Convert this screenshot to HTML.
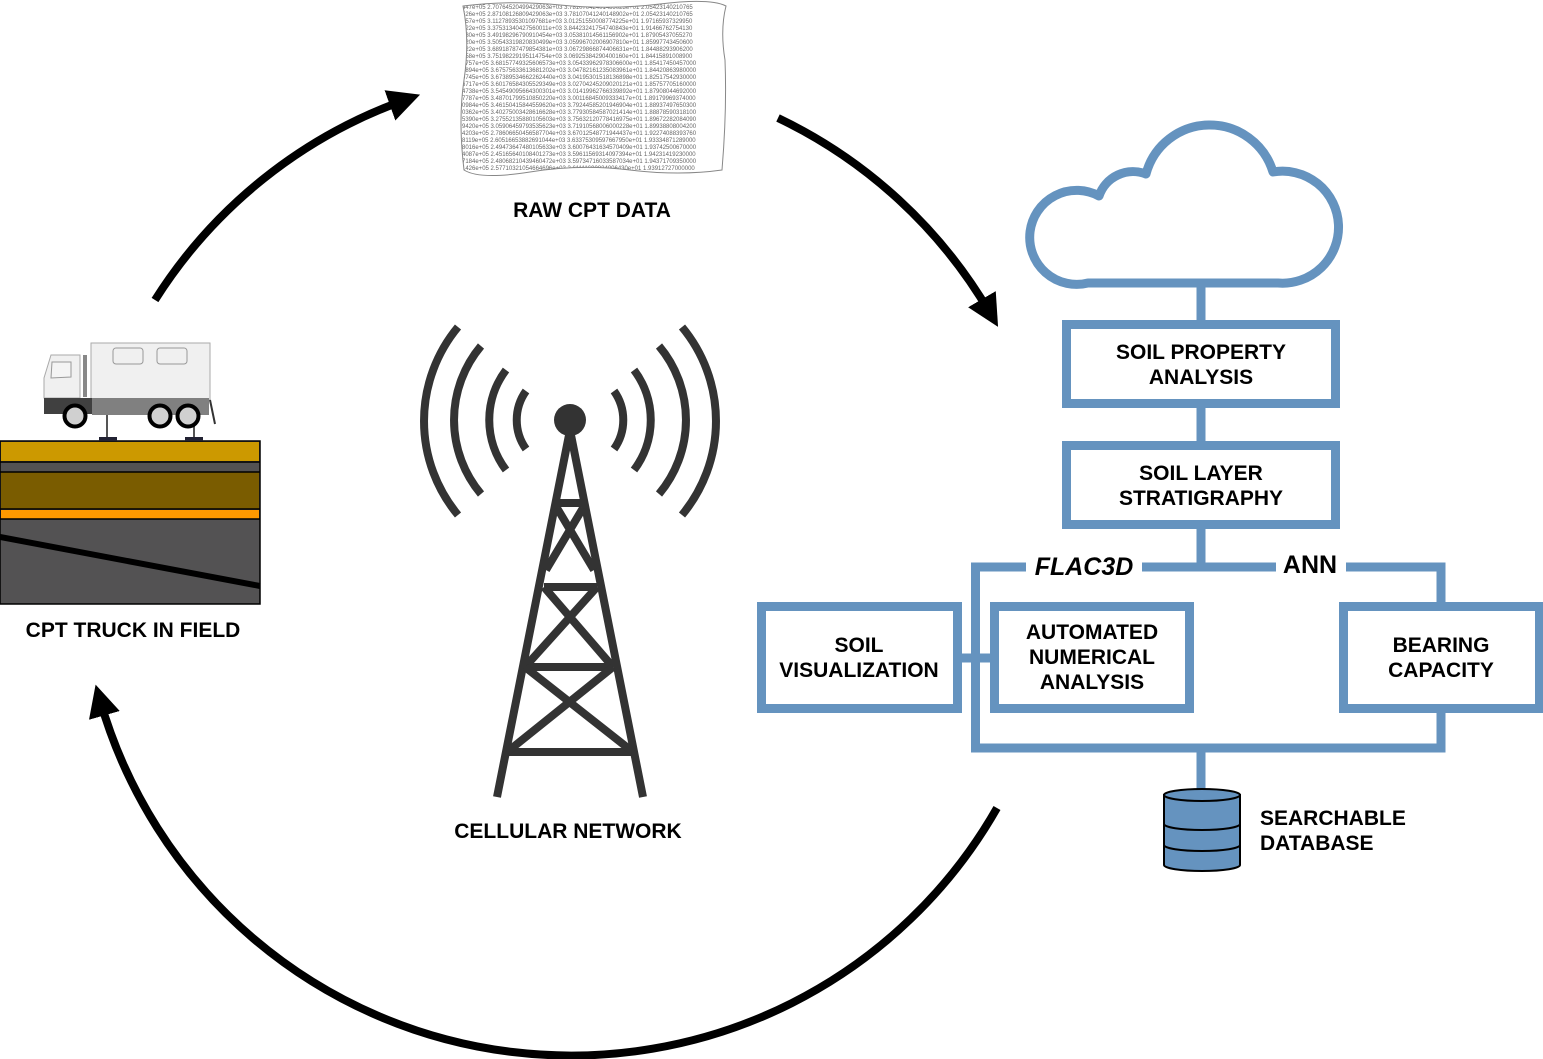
<!DOCTYPE html>
<html><head><meta charset="utf-8"><style>
html,body{margin:0;padding:0;background:#fff;}
svg{display:block;}
text{font-family:"Liberation Sans",Arial,sans-serif;font-weight:bold;}
</style></head><body>
<svg width="1543" height="1059" viewBox="0 0 1543 1059" xmlns="http://www.w3.org/2000/svg">
<defs>
<marker id="ah" markerWidth="4" markerHeight="4" refX="2" refY="2" orient="auto" markerUnits="strokeWidth">
<path d="M0,0 L4,2 L0,4 z" fill="#000"/>
</marker>
<clipPath id="sheet"><path d="M463,6 Q510,0 560,5 T660,4 T726,6 Q720,30 725,60 Q727,110 722,170 Q680,176 630,170 T530,172 T464,170 Q458,120 464,80 T463,6 z"/></clipPath>
</defs>

<path d="M155,300 A490,490 0 0 1 405,100" fill="none" stroke="#000" stroke-width="8" marker-end="url(#ah)"/>
<path d="M778,118 A490,490 0 0 1 990,313" fill="none" stroke="#000" stroke-width="8" marker-end="url(#ah)"/>
<path d="M997,808 A490,490 0 0 1 100,700" fill="none" stroke="#000" stroke-width="8" marker-end="url(#ah)"/>

<g clip-path="url(#sheet)">
<rect x="455" y="0" width="280" height="180" fill="#fff"/>
<g font-family="Liberation Mono,monospace" font-size="6" fill="#666">
<text x="462" y="9" style="font-weight:normal">447e+05 2.70764520499429063e+03 3.78107042401489023e+01 2.05423140210765</text>
<text x="462" y="16" style="font-weight:normal">526e+05 2.87108126809429063e+03 3.78107041240148902e+01 2.05423140210765</text>
<text x="462" y="23" style="font-weight:normal">157e+05 3.11278935301097681e+03 3.01251550008774225e+01 1.97165937329950</text>
<text x="462" y="30" style="font-weight:normal">522e+05 3.37531340427560011e+03 3.84423241754740843e+01 1.91466762754130</text>
<text x="462" y="37" style="font-weight:normal">880e+05 3.49198296790910454e+03 3.05381014561156902e+01 1.87905437055270</text>
<text x="462" y="44" style="font-weight:normal">720e+05 3.50543319820830499e+03 3.05996702006907810e+01 1.85997743450600</text>
<text x="462" y="51" style="font-weight:normal">022e+05 3.68918787479854381e+03 3.06729866874406631e+01 1.84488293906200</text>
<text x="462" y="58" style="font-weight:normal">058e+05 3.75198229195114754e+03 3.06925384290400160e+01 1.84415891008900</text>
<text x="462" y="65" style="font-weight:normal">8757e+05 3.68157749325606573e+03 3.05433962978306600e+01 1.85417450457000</text>
<text x="462" y="72" style="font-weight:normal">2894e+05 3.67575633613681202e+03 3.04782161235083961e+01 1.84420863980000</text>
<text x="462" y="79" style="font-weight:normal">9745e+05 3.67389534662262440e+03 3.04195301518136898e+01 1.82517542930000</text>
<text x="462" y="86" style="font-weight:normal">6717e+05 3.60176584305529349e+03 3.02704245209020121e+01 1.85757705160000</text>
<text x="462" y="93" style="font-weight:normal">4738e+05 3.54549095664300301e+03 3.01419962766339892e+01 1.87908044692000</text>
<text x="462" y="100" style="font-weight:normal">7787e+05 3.48701799510850220e+03 3.00116845009333417e+01 1.89179969374000</text>
<text x="462" y="107" style="font-weight:normal">0984e+05 3.46150415844559620e+03 3.79244585201946904e+01 1.88937497650300</text>
<text x="462" y="114" style="font-weight:normal">0362e+05 3.40275003428616628e+03 3.77930584587021414e+01 1.88878590318100</text>
<text x="462" y="121" style="font-weight:normal">5390e+05 3.27552135880105603e+03 3.75632120778416975e+01 1.89672282084090</text>
<text x="462" y="128" style="font-weight:normal">9420e+05 3.05906459793535623e+03 3.71910568006000228e+01 1.89938808004200</text>
<text x="462" y="135" style="font-weight:normal">4203e+05 2.78606650456587704e+03 3.67012548771944437e+01 1.92274088393760</text>
<text x="462" y="142" style="font-weight:normal">8119e+05 2.60516653882691044e+03 3.63375309597667950e+01 1.93334871289000</text>
<text x="462" y="149" style="font-weight:normal">8016e+05 2.49473647480105633e+03 3.60076431634570409e+01 1.93742500670000</text>
<text x="462" y="156" style="font-weight:normal">4087e+05 2.45165640108401273e+03 3.59611569314097394e+01 1.94231419230000</text>
<text x="462" y="163" style="font-weight:normal">7184e+05 2.48068210439460472e+03 3.59734716033587034e+01 1.94371709350000</text>
<text x="462" y="170" style="font-weight:normal">1426e+05 2.57710321054664696e+03 3.61111690824006430e+01 1.93912727000000</text>
</g>
</g>
<path d="M463,6 Q510,0 560,5 T660,4 T726,6 Q720,30 725,60 Q727,110 722,170 Q680,176 630,170 T530,172 T464,170 Q458,120 464,80 T463,6 z" fill="none" stroke="#888" stroke-width="1"/>
<text x="592" y="217" font-size="21" text-anchor="middle">RAW CPT DATA</text>

<rect x="0" y="441" width="260" height="163" fill="#535253" stroke="#000" stroke-width="1.5"/>
<rect x="1" y="442" width="258" height="19" fill="#cc9900"/>
<line x1="0" y1="462" x2="260" y2="462" stroke="#000" stroke-width="1.5"/>
<rect x="1" y="472" width="258" height="37" fill="#7a5c00"/>
<line x1="0" y1="472" x2="260" y2="472" stroke="#000" stroke-width="1.5"/>
<line x1="0" y1="509" x2="260" y2="509" stroke="#000" stroke-width="1.5"/>
<rect x="1" y="510" width="258" height="9" fill="#ff9900"/>
<line x1="0" y1="519" x2="260" y2="519" stroke="#000" stroke-width="1.5"/>
<line x1="0" y1="537" x2="260" y2="586" stroke="#000" stroke-width="6"/>
<line x1="107" y1="415" x2="107" y2="440" stroke="#555" stroke-width="2"/>
<rect x="99" y="437" width="18" height="4" fill="#223"/>
<line x1="194" y1="415" x2="194" y2="440" stroke="#555" stroke-width="2"/>
<rect x="185" y="437" width="18" height="4" fill="#223"/>
<rect x="91" y="343" width="119" height="57" fill="#f0f0f0" stroke="#aaa" stroke-width="1"/>
<rect x="92" y="398" width="117" height="17" fill="#808080"/>
<rect x="113" y="348" width="30" height="16" rx="3" fill="#f0f0f0" stroke="#999"/>
<rect x="157" y="348" width="30" height="16" rx="3" fill="#f0f0f0" stroke="#999"/>
<line x1="210" y1="400" x2="215" y2="424" stroke="#333" stroke-width="2"/>
<path d="M51,355 L80,355 L80,398 L44,398 L44,378 Z" fill="#f0f0f0" stroke="#aaa"/>
<rect x="83" y="355" width="4" height="42" fill="#888"/>
<path d="M52,362 L71,362 L71,377 L51,378 Z" fill="#f4f4f4" stroke="#999"/>
<rect x="44" y="398" width="48" height="16" fill="#404040"/>
<circle cx="75" cy="416" r="10.5" fill="#d0d0d0" stroke="#000" stroke-width="4"/>
<circle cx="160" cy="416" r="10.5" fill="#d0d0d0" stroke="#000" stroke-width="4"/>
<circle cx="188" cy="416" r="10.5" fill="#d0d0d0" stroke="#000" stroke-width="4"/>
<text x="133" y="637" font-size="21" text-anchor="middle">CPT TRUCK IN FIELD</text>

<g stroke="#333" stroke-width="8" fill="none">
<path d="M526,391 A50,50 0 0 0 526,449"/>
<path d="M614,391 A50,50 0 0 1 614,449"/>
<path d="M506,370 A83,83 0 0 0 506,470"/>
<path d="M634,370 A83,83 0 0 1 634,470"/>
<path d="M481,346 A115,115 0 0 0 481,494"/>
<path d="M659,346 A115,115 0 0 1 659,494"/>
<path d="M458,327 A147,147 0 0 0 458,515"/>
<path d="M682,327 A147,147 0 0 1 682,515"/>
<path d="M570,430 L497,797 M570,430 L643,797"/>
<path d="M557,503 L583,503 M544,587 L597,587 M525,667 L613,667 M507,752 L633,752"/>
<path d="M557,508 L594,570 M583,508 L546,570"/>
<path d="M544,587 L613,667 M597,587 L525,667"/>
<path d="M525,667 L633,752 M613,667 L507,752"/>
</g>
<circle cx="570" cy="420" r="16" fill="#333"/>
<text x="568" y="838" font-size="21" text-anchor="middle">CELLULAR NETWORK</text>

<path d="M1088,283 A47,47 0 1 1 1099,196 A36,36 0 0 1 1146,174 A66,66 0 0 1 1273,172 A56,56 0 1 1 1278,283 Z" fill="none" stroke="#6593bf" stroke-width="9" stroke-linejoin="round"/>

<g fill="none" stroke="#6593bf" stroke-width="9">
<line x1="1201" y1="283" x2="1201" y2="320"/>
<rect x="1066.5" y="324.5" width="269" height="79"/>
<line x1="1201" y1="408" x2="1201" y2="441"/>
<rect x="1066.5" y="445.5" width="269" height="79"/>
<line x1="1201" y1="529" x2="1201" y2="567"/>
<path d="M1026,567 L975.5,567 L975.5,748 L1441,748 L1441,712"/>
<path d="M1142,567 L1276,567"/>
<path d="M1346,567 L1441,567 L1441,603"/>
<rect x="761.5" y="606.5" width="196" height="102"/>
<rect x="994.5" y="606.5" width="195" height="102"/>
<rect x="1343.5" y="606.5" width="196" height="102"/>
<line x1="962" y1="658" x2="990" y2="658"/>
<line x1="1201" y1="752" x2="1201" y2="790"/>
</g>
<text x="1084" y="575" font-size="25" text-anchor="middle" font-style="italic">FLAC3D</text>
<text x="1310" y="573" font-size="25" text-anchor="middle">ANN</text>
<g font-size="21" text-anchor="middle">
<text x="1201" y="359">SOIL PROPERTY</text>
<text x="1201" y="384">ANALYSIS</text>
<text x="1201" y="480">SOIL LAYER</text>
<text x="1201" y="505">STRATIGRAPHY</text>
<text x="859" y="652">SOIL</text>
<text x="859" y="677">VISUALIZATION</text>
<text x="1092" y="639">AUTOMATED</text>
<text x="1092" y="664">NUMERICAL</text>
<text x="1092" y="689">ANALYSIS</text>
<text x="1441" y="652">BEARING</text>
<text x="1441" y="677">CAPACITY</text>
</g>
<g stroke="#000" stroke-width="2">
<path d="M1164,795 L1164,865 A38,6 0 0 0 1240,865 L1240,795 Z" fill="#6593bf"/>
<ellipse cx="1202" cy="795" rx="38" ry="6" fill="#6593bf"/>
<path d="M1164,824 A38,6 0 0 0 1240,824 M1164,845 A38,6 0 0 0 1240,845" fill="none"/>
</g>
<text x="1260" y="825" font-size="21">SEARCHABLE</text>
<text x="1260" y="850" font-size="21">DATABASE</text>
</svg>
</body></html>
